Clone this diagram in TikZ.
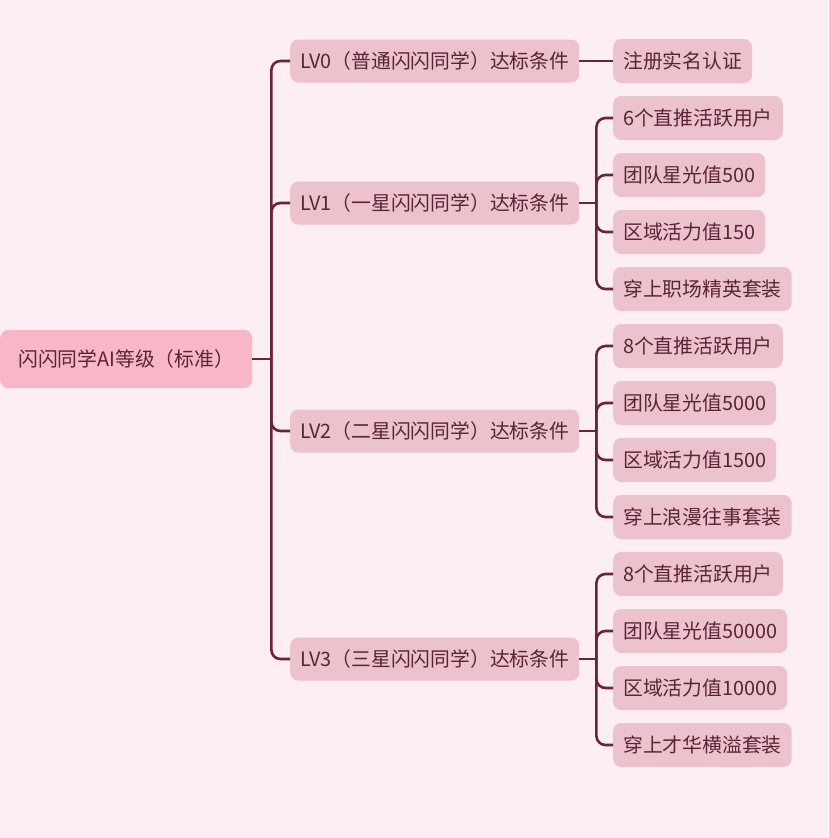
\documentclass[tikz,border=0pt]{standalone}
\usepackage{fontspec}
\setmainfont{Noto Sans CJK SC}
\usetikzlibrary{calc}
\definecolor{bgc}{HTML}{FCEEF2}
\definecolor{rootc}{HTML}{F8B6C6}
\definecolor{boxc}{HTML}{ECC2CD}
\definecolor{txtc}{HTML}{5A2434}
\definecolor{linec}{HTML}{6A2438}
\tikzset{
  base/.style={rounded corners=8pt, text=txtc, font=\fontsize{19.8}{22}\selectfont, inner sep=0pt, anchor=west},
  rootbox/.style={base, fill=rootc, minimum width=252pt, minimum height=58pt},
  lvbox/.style={base, fill=boxc, inner xsep=10pt, minimum height=43pt},
  leafbox/.style={base, fill=boxc, inner xsep=10pt, minimum height=44pt},
  conn/.style={draw=linec, line width=2.6pt, rounded corners=9pt},
}
\begin{document}
\begin{tikzpicture}[x=1pt,y=-1pt]
\fill[bgc] (0,0) rectangle (828,838);
\useasboundingbox (0,0) rectangle (828,838);

\node[rootbox] (root) at (0,359) {闪闪同学AI等级（标准）};

\node[lvbox] (lv0) at (290,61) {LV0（普通闪闪同学）达标条件};
\node[lvbox] (lv1) at (290,203) {LV1（一星闪闪同学）达标条件};
\node[lvbox] (lv2) at (290,431) {LV2（二星闪闪同学）达标条件};
\node[lvbox] (lv3) at (290,659) {LV3（三星闪闪同学）达标条件};

\node[leafbox] (a0) at (613,61) {注册实名认证};

\node[leafbox] (b1) at (613,118) {6个直推活跃用户};
\node[leafbox] (b2) at (613,175) {团队星光值500};
\node[leafbox] (b3) at (613,232) {区域活力值150};
\node[leafbox] (b4) at (613,289) {穿上职场精英套装};

\node[leafbox] (c1) at (613,346) {8个直推活跃用户};
\node[leafbox] (c2) at (613,403) {团队星光值5000};
\node[leafbox] (c3) at (613,460) {区域活力值1500};
\node[leafbox] (c4) at (613,517) {穿上浪漫往事套装};

\node[leafbox] (d1) at (613,574) {8个直推活跃用户};
\node[leafbox] (d2) at (613,631) {团队星光值50000};
\node[leafbox] (d3) at (613,688) {区域活力值10000};
\node[leafbox] (d4) at (613,745) {穿上才华横溢套装};

% root connectors
\coordinate (jr) at ([xshift=19pt]root.east);
\draw[conn] (root.east) -- (jr);
\foreach \n in {lv0,lv1,lv2,lv3} \draw[conn] (jr) |- (\n.west);

% LV0
\draw[conn] (lv0.east) -- (a0.west);

% LV1
\coordinate (j1) at ([xshift=17pt]lv1.east);
\draw[conn] (lv1.east) -- (j1);
\foreach \n in {b1,b2,b3,b4} \draw[conn] (j1) |- (\n.west);

% LV2
\coordinate (j2) at ([xshift=17pt]lv2.east);
\draw[conn] (lv2.east) -- (j2);
\foreach \n in {c1,c2,c3,c4} \draw[conn] (j2) |- (\n.west);

% LV3
\coordinate (j3) at ([xshift=17pt]lv3.east);
\draw[conn] (lv3.east) -- (j3);
\foreach \n in {d1,d2,d3,d4} \draw[conn] (j3) |- (\n.west);
\end{tikzpicture}
\end{document}
